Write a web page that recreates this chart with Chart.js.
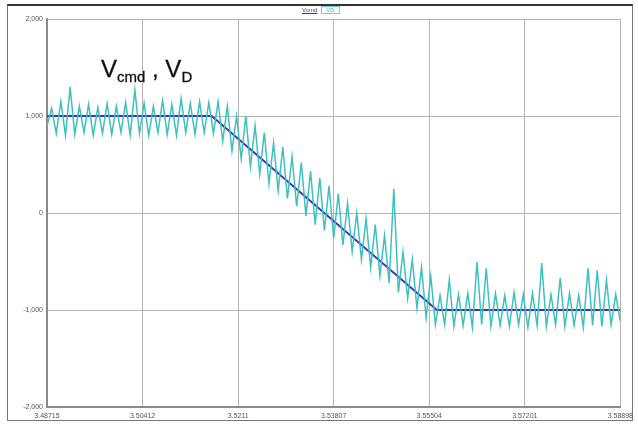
<!DOCTYPE html>
<html>
<head>
<meta charset="utf-8">
<script src="https://cdn.jsdelivr.net/npm/chart.js@4.4.1/dist/chart.umd.min.js"></script>
<style>
  body { margin: 0; background: #fff; }
  #wrap { position: relative; width: 638px; height: 429px; font-family: 'Liberation Sans', Arial, sans-serif; }
  #frame { position: absolute; left: 7px; top: 4px; width: 624px; height: 414px; border: 1px solid #777; border-top: 2px solid #333; }
  #legend { position: absolute; left: 302px; top: 7px; font-size: 6px; }
  #legend .cmd { color: #3333cc; text-decoration: underline; margin-right: 4px; }
  #legend .vd { color: #38b8b8; border: 1px solid #6fd0d0; padding: 0 4px; }
  #label { position: absolute; left: 101px; top: 55px; font-size: 24px; color: #111; -webkit-text-stroke: 0.3px #111; }
  #label sub { font-size: 15px; vertical-align: -5px; }
  canvas { position: absolute; left: 0; top: 0; }
</style>
</head>
<body>
<div id="wrap">
  <div id="frame"></div>
  <canvas id="chart" width="638" height="429"></canvas>
  <div id="legend"><span class="cmd">Vcmd</span><span class="vd">VD</span></div>
  <div id="label">V<sub>cmd</sub> , V<sub>D</sub></div>
</div>
<script>
const tStart = 3.48715;
const tEnd = 3.58898;

// x tick positions and their labels as printed on the original
const xTicks = [3.48715, 3.50412, 3.5211, 3.53807, 3.55504, 3.57201, 3.58898];
const xTickLabels = ['3.48715', '3.50412', '3.5211', '3.53807', '3.55504', '3.57201', '3.58898'];

// Vcmd: command signal (corner points)
const vcmdTime = [3.48715, 3.5164, 3.5564, 3.58898];
const vcmdValues = [1000, 1000, -1000, -1000];

// VD: measured signal, read peak / trough per half period
const vdValues = [
  900, 1080, 820, 1150, 800, 1300, 810, 1100, 830, 1120,
  800, 1090, 820, 1130, 810, 1100, 830, 1140, 800, 1270,
  820, 1130, 800, 1100, 830, 1160, 810, 1120, 800, 1180,
  830, 1130, 810, 1150, 830, 1140,
  820, 1150, 740, 1100, 640, 1000, 560, 1000, 480, 900,
  400, 830, 300, 720, 230, 680, 150, 580, 70, 520,
  -30, 430, -120, 360, -180, 280, -260, 200, -330, 100,
  -400, 0, -480, -60, -560, -120, -650, -230, -720, 250,
  -820, -400, -880, -480, -980, -560, -1080, -650, -1150,
  -850, -1150, -690, -1170, -840, -1160, -830, -1180, -505, -1150,
  -570, -1170, -830, -1160, -850, -1170, -820, -1150, -840, -1180,
  -830, -1160, -515, -1170, -840, -1150, -670, -1170, -830, -1160,
  -850, -1180, -570, -1160, -590, -1170, -690, -1150, -840, -1120
];

const dt = (tEnd - tStart) / (vdValues.length - 1);
const vdPoints = vdValues.map((v, i) => ({ x: tStart + i * dt, y: v }));
const vcmdPoints = vcmdTime.map((t, i) => ({ x: t, y: vcmdValues[i] }));

const ctx = document.getElementById('chart').getContext('2d');
new Chart(ctx, {
    type: 'line',
    data: {
        datasets: [
            {
                label: 'VD',
                data: vdPoints,
                borderColor: '#3fc0c0',
                borderWidth: 1.5,
                pointRadius: 0,
                tension: 0
            },
            {
                label: 'Vcmd',
                data: vcmdPoints,
                borderColor: '#3535b8',
                borderWidth: 1.8,
                pointRadius: 0,
                tension: 0
            }
        ]
    },
    options: {
        responsive: false,
        animation: false,
        layout: { padding: { left: 0, top: 19, right: 16, bottom: 0 } },
        plugins: {
            legend: { display: false },
            tooltip: { enabled: false }
        },
        scales: {
            x: {
                type: 'linear',
                min: tStart,
                max: tEnd,
                afterBuildTicks: scale => { scale.ticks = xTicks.map(v => ({ value: v })); },
                afterFit: scale => { scale.height = 22; },
                ticks: {
                    autoSkip: false,
                    maxRotation: 0,
                    padding: 5,
                    color: '#555',
                    font: { size: 7, family: "'Liberation Sans', Arial" },
                    callback: (value, index) => xTickLabels[index]
                },
                grid: { color: '#b4b4b4', lineWidth: 1, drawTicks: false },
                border: { color: '#8a8a8a', width: 2 }
            },
            y: {
                min: -2000,
                max: 2000,
                afterFit: scale => { scale.width = 47; },
                ticks: {
                    stepSize: 1000,
                    padding: 4,
                    color: '#555',
                    font: { size: 7, family: "'Liberation Sans', Arial" },
                    callback: value => value.toLocaleString('en-US')
                },
                grid: { color: '#b4b4b4', lineWidth: 1, drawTicks: false },
                border: { color: '#8a8a8a', width: 2 }
            }
        }
    }
});
</script>
</body>
</html>
